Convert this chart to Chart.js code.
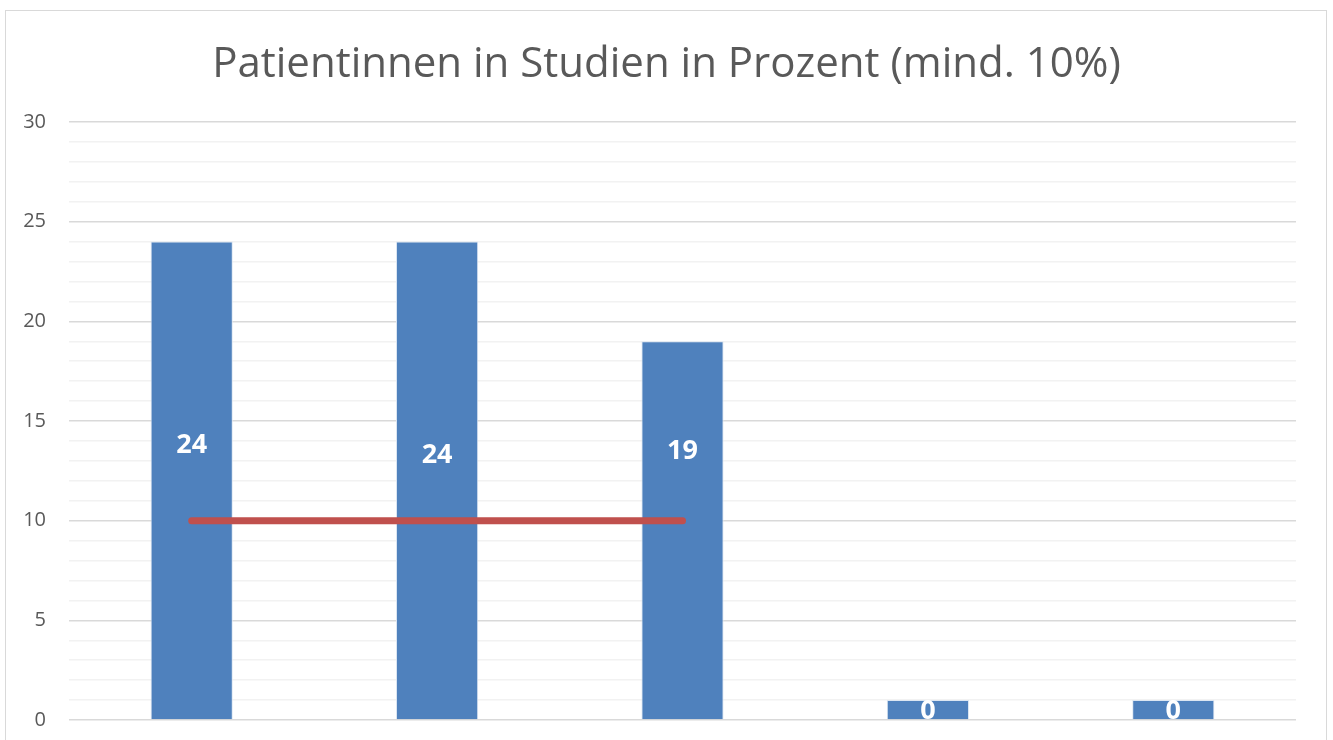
<!DOCTYPE html>
<html>
<head>
<meta charset="utf-8">
<script src="https://cdn.jsdelivr.net/npm/chart.js@4/dist/chart.umd.min.js"></script>
<style>
  html, body { margin: 0; padding: 0; background: #fff; overflow: hidden; width: 1333px; height: 740px; }
  #frame { position: absolute; left: 5px; top: 10px; width: 1320px; height: 800px; border: 1px solid #d9d9d9; }
  #wrap { position: absolute; left: 0; top: 0; width: 1333px; height: 755px; }
</style>
</head>
<body>
<div id="frame"></div>
<div id="wrap"><canvas id="chart"></canvas></div>
<script>
// Datos del gráfico
const categorias = ['Studie 1', 'Studie 2', 'Studie 3', 'Studie 4', 'Studie 5'];
const valores = [24, 24, 19, 1, 1];
const etiquetas = ['24', '24', '19', '0', '0'];
const posEtiquetas = [13.8, 13.3, 13.5, 0.45, 0.45];
const minimo = [10, 10, 10, null, null];
const tituloTexto = 'Patientinnen in Studien in Prozent (mind. 10%)';

// Título centrado en todo el lienzo
const tituloPlugin = {
    id: 'titulo',
    afterDraw(chart) {
        const ctx = chart.ctx;
        ctx.save();
        ctx.fillStyle = '#595959';
        ctx.font = '42px "Open Sans"';
        ctx.textAlign = 'center';
        ctx.textBaseline = 'middle';
        ctx.fillText(tituloTexto, chart.width / 2, 65);
        ctx.restore();
    }
};

// Plugin para las etiquetas de las barras
const etiquetasPlugin = {
    id: 'etiquetas',
    afterDatasetsDraw(chart) {
        const ctx = chart.ctx;
        const meta = chart.getDatasetMeta(1);
        const y = chart.scales.y;
        ctx.save();
        ctx.fillStyle = '#ffffff';
        ctx.font = 'bold 27px "Open Sans"';
        ctx.textAlign = 'center';
        ctx.textBaseline = 'middle';
        meta.data.forEach((bar, i) => {
            ctx.fillText(etiquetas[i], bar.x, y.getPixelForValue(posEtiquetas[i]));
        });
        ctx.restore();
    }
};

const ctx = document.getElementById('chart').getContext('2d');
new Chart(ctx, {
    data: {
        labels: categorias,
        datasets: [{
            type: 'line',
            data: minimo,
            borderColor: '#c0504d',
            borderWidth: 7,
            borderCapStyle: 'round',
            pointRadius: 0,
            order: 0
        }, {
            type: 'bar',
            data: valores,
            backgroundColor: '#4f81bd',
            borderColor: '#dce6f2',
            borderWidth: 1,
            categoryPercentage: 1,
            barPercentage: 0.335,
            order: 1
        }]
    },
    options: {
        responsive: true,
        maintainAspectRatio: false,
        animation: false,
        layout: { padding: { left: 0, right: 37, top: 122, bottom: 0 } },
        plugins: {
            legend: { display: false },
            tooltip: { enabled: false },
            title: { display: false }
        },
        scales: {
            x: { display: false },
            y: {
                min: 0,
                max: 30,
                afterFit(scale) { scale.width = 69; },
                border: { display: false },
                grid: {
                    drawTicks: false,
                    lineWidth: 1.5,
                    color: c => (c.tick && c.tick.value % 5 === 0) ? '#d9d9d9' : '#f2f2f2'
                },
                ticks: {
                    stepSize: 1,
                    autoSkip: false,
                    padding: 23,
                    color: '#595959',
                    font: { family: '"Open Sans"', size: 20 },
                    callback: v => (v % 5 === 0 ? v : '')
                }
            }
        }
    },
    plugins: [etiquetasPlugin, tituloPlugin]
});
</script>
</body>
</html>
